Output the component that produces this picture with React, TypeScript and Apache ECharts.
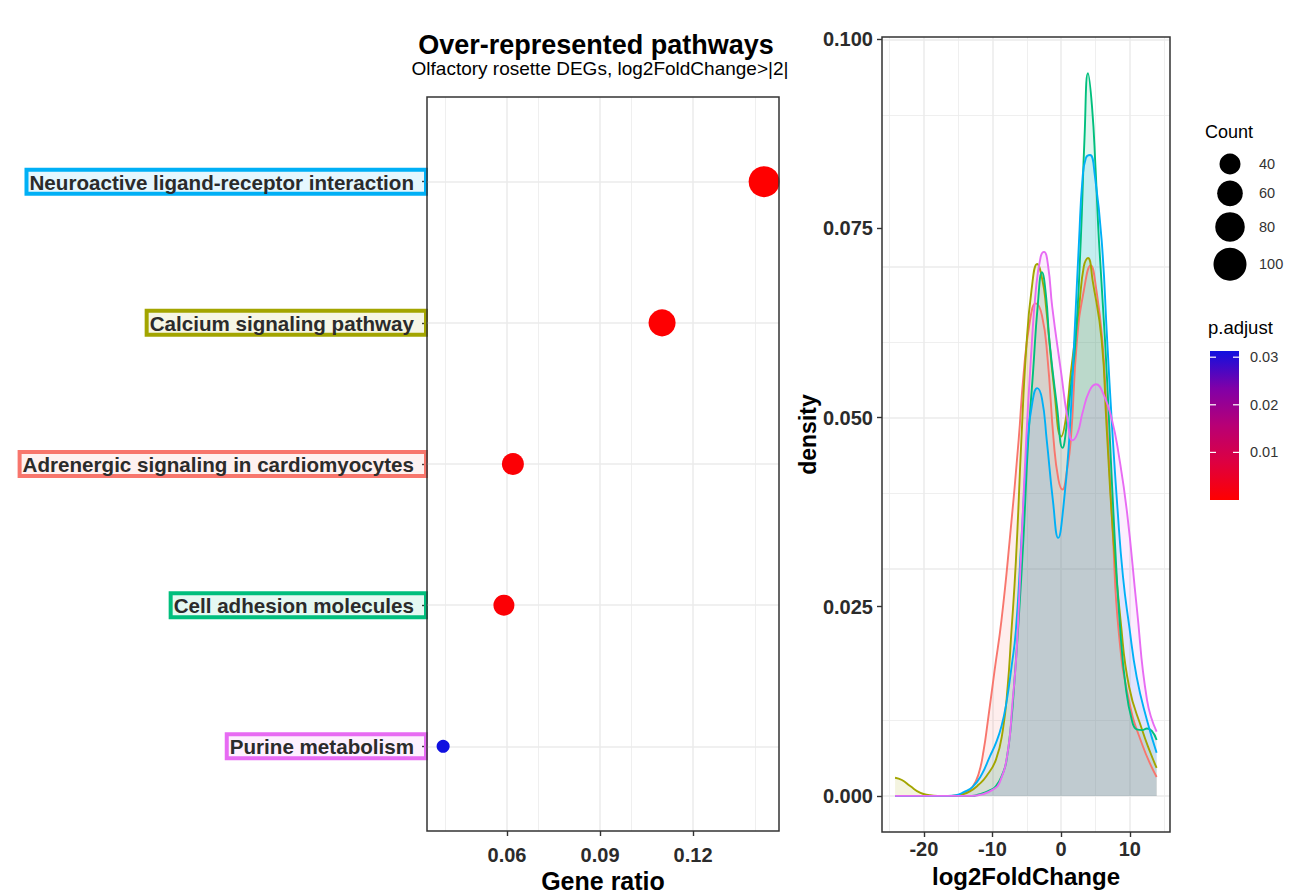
import React, { useEffect, useRef } from 'react';
import * as echarts from 'echarts';

const FONT = '"Liberation Sans", Arial, Helvetica, sans-serif';

// ---------- Dot plot data ----------
const pathways = [
  'Neuroactive ligand-receptor interaction',
  'Calcium signaling pathway',
  'Adrenergic signaling in cardiomyocytes',
  'Cell adhesion molecules',
  'Purine metabolism',
];
const geneRatio = [0.1429, 0.11, 0.0619, 0.059, 0.0394];
const geneCount = [88, 67, 44, 40, 15];
const pAdjust = [0.00001, 0.0002, 0.0006, 0.0006, 0.0313];
const pathwayColors = ['#00B0F6', '#A3A500', '#F8766D', '#00BF7D', '#E76BF3'];

const ratioTicks = [0.06, 0.09, 0.12];
const ratioMinor = [0.045, 0.075, 0.105, 0.135];
const countLegend = [40, 60, 80, 100];
const pTicks = [0.01, 0.02, 0.03];
const pMax = 0.0313;
const pGradient = ['#FF0000', '#DE0040', '#B80075', '#8000A8', '#1010E0'];

// ---------- Density plot data ----------
const foldTicks = [-20, -10, 0, 10];
const foldMinor = [-25, -15, -5, 5, 15];
const densityTicks = [0, 0.025, 0.05, 0.075, 0.1];
const densityMinor = [0.0125, 0.0375, 0.0625, 0.0875];

const densAdrenergic = [
  [-24.2, 0], [-20, 0], [-16, 0], [-15, 0.0001], [-14, 0.0004], [-12.9, 0.0012], [-12, 0.003],
  [-11.3, 0.006], [-10.7, 0.0098], [-9.7, 0.0166], [-8.7, 0.0232], [-7.5, 0.0338], [-6.2, 0.047],
  [-5.5, 0.0555], [-4.6, 0.0625], [-3.7, 0.0651], [-2.8, 0.0635], [-2.0, 0.058], [-1.1, 0.047],
  [-0.4, 0.0418], [0.2, 0.0405], [0.8, 0.0428], [1.4, 0.047], [2.3, 0.0602], [3.3, 0.0668],
  [4.3, 0.0701], [5.1, 0.067], [6.0, 0.0602], [6.7, 0.049], [7.5, 0.035], [8.4, 0.0215],
  [9.9, 0.0125], [11.8, 0.0068], [13.9, 0.0025],
];
const densCalcium = [
  [-24.2, 0.0024], [-23.2, 0.0021], [-22, 0.0013], [-20.5, 0.0004], [-19.2, 0.0001], [-18, 0],
  [-16, 0], [-14.5, 0.0002], [-13.3, 0.0006], [-12, 0.0015], [-10.9, 0.0026], [-9.5, 0.0048],
  [-8.5, 0.0087], [-7.8, 0.0144], [-7.3, 0.021], [-6.6, 0.031], [-5.8, 0.047], [-5.1, 0.059],
  [-4.3, 0.067], [-3.5, 0.0703], [-2.7, 0.068], [-2.2, 0.0646], [-1.0, 0.0536], [0, 0.0475],
  [0.7, 0.05], [1.4, 0.0559], [2.6, 0.0646], [3.3, 0.07], [3.9, 0.0711], [4.6, 0.068],
  [5.9, 0.0602], [6.6, 0.049], [7.6, 0.034], [8.65, 0.0232], [9.9, 0.0144], [11.8, 0.0087],
  [13.0, 0.0057], [13.9, 0.0037],
];
const densCellAdhesion = [
  [-24.2, 0], [-20, 0], [-16, 0], [-13, 0], [-12, 0.0002], [-10.5, 0.0007], [-9.5, 0.0013],
  [-8.5, 0.003], [-8.0, 0.0045], [-7.3, 0.0095], [-6.7, 0.0166], [-6.2, 0.0232], [-5.5, 0.034],
  [-4.8, 0.047], [-4.1, 0.056], [-3.4, 0.065], [-2.8, 0.0692], [-2.2, 0.066], [-1.7, 0.06],
  [-0.6, 0.0514], [0.2, 0.046], [0.8, 0.049], [1.4, 0.054], [2.1, 0.0602], [2.85, 0.0734],
  [3.4, 0.087], [3.9, 0.0955], [4.5, 0.091], [5.0, 0.083], [5.5, 0.0734], [6.4, 0.06],
  [7.0, 0.049], [7.8, 0.034], [8.6, 0.022], [9.4, 0.0144], [10.3, 0.01], [11.0, 0.0088],
  [11.8, 0.0087], [12.5, 0.0089], [13.2, 0.0086], [13.9, 0.0074],
];
const densNeuroactive = [
  [-24.2, 0], [-20, 0], [-16.5, 0], [-15.3, 0.0001], [-14.2, 0.0005], [-12.9, 0.0012],
  [-11.6, 0.0028], [-10.4, 0.0052], [-9.5, 0.007], [-8.7, 0.0092], [-8.0, 0.0122], [-7.3, 0.0166],
  [-6.6, 0.0219], [-5.8, 0.0338], [-4.9, 0.047], [-4.2, 0.052], [-3.5, 0.0539], [-2.8, 0.0525],
  [-2.1, 0.047], [-1.2, 0.039], [-0.43, 0.0341], [0.3, 0.038], [1.16, 0.047], [1.9, 0.0602],
  [2.6, 0.0734], [3.1, 0.0815], [3.6, 0.0843], [4.2, 0.0847], [4.9, 0.082], [5.9, 0.0734],
  [6.7, 0.0602], [7.4, 0.049], [8.2, 0.038], [9.0, 0.029], [9.9, 0.0225], [11.0, 0.0157],
  [12.5, 0.01], [13.9, 0.0057],
];
const densPurine = [
  [-24.2, 0], [-20, 0], [-16, 0], [-13, 0], [-11.5, 0.0002], [-10, 0.0008], [-9.0, 0.0017],
  [-7.8, 0.0057], [-7.1, 0.0123], [-6.5, 0.019], [-5.8, 0.033], [-5.1, 0.047], [-4.4, 0.058],
  [-3.7, 0.0668], [-3.0, 0.0712], [-2.5, 0.0719], [-1.9, 0.07], [-1.3, 0.0646], [0, 0.0559],
  [0.9, 0.05], [1.65, 0.047], [2.4, 0.048], [3.1, 0.0506], [4.1, 0.0535], [5.07, 0.0544],
  [6.2, 0.053], [7.4, 0.0497], [8.4, 0.045], [9.6, 0.0374], [11.0, 0.025], [12.5, 0.0127],
  [13.9, 0.0085],
];

// ggplot draws groups in alphabetical order
const densitySeries = [
  { name: 'Adrenergic signaling in cardiomyocytes', color: '#F8766D', data: densAdrenergic },
  { name: 'Calcium signaling pathway', color: '#A3A500', data: densCalcium },
  { name: 'Cell adhesion molecules', color: '#00BF7D', data: densCellAdhesion },
  { name: 'Neuroactive ligand-receptor interaction', color: '#00B0F6', data: densNeuroactive },
  { name: 'Purine metabolism', color: '#E76BF3', data: densPurine },
];

function rgba(hex: string, a: number) {
  const n = parseInt(hex.slice(1), 16);
  return `rgba(${(n >> 16) & 255},${(n >> 8) & 255},${n & 255},${a})`;
}
const sizeOf = (count: number) => Math.sqrt(9 + 10.8 * count);

export default function App() {
  const ref = useRef<HTMLDivElement>(null);

  useEffect(() => {
    const chart = echarts.init(ref.current!, null, { renderer: 'svg' });
    const n = pathways.length;
    const yPos = pathways.map((_, i) => n - i);

    const rich: Record<string, any> = {};
    pathways.forEach((_, i) => {
      rich['b' + i] = {
        fontSize: 20.6,
        fontWeight: 'bold',
        fontFamily: FONT,
        color: '#2b2b2b',
        borderColor: pathwayColors[i],
        borderWidth: 2,
        backgroundColor: rgba(pathwayColors[i], 0.1),
        padding: [2, 12, 1, 3],
        lineHeight: 21,
      };
    });

    const gridLine = (w: number) => ({ color: '#EBEBEB', width: w, type: 'solid' });
    const markLineBase = {
      silent: true,
      symbol: ['none', 'none'],
      label: { show: false },
      emphasis: { disabled: true },
      z: 1,
      animation: false,
    };

    const txt = (extra: any) => ({
      fontFamily: FONT, align: 'left', verticalAlign: 'middle', textAlign: 'left', textVerticalAlign: 'middle', ...extra,
    });

    // legend graphics
    const legendEls: any[] = [];
    legendEls.push({ type: 'text', x: 1205, y: 132, style: txt({ text: 'Count', fontSize: 18, fill: '#000' }) });
    let cy = 164;
    countLegend.forEach((c, i) => {
      const d = sizeOf(c);
      if (i > 0) cy += (sizeOf(countLegend[i - 1]) + 6) / 2 + (d + 6) / 2;
      legendEls.push({ type: 'circle', shape: { cx: 1230, cy, r: d / 2 }, style: { fill: '#000' } });
      legendEls.push({ type: 'text', x: 1259, y: cy, style: txt({ text: String(c), fontSize: 14.5, fill: '#333' }) });
    });
    const barTop = 351, barH = 149, barX = 1210, barW = 29;
    legendEls.push({ type: 'text', x: 1208, y: 327, style: txt({ text: 'p.adjust', fontSize: 18.5, fill: '#000' }) });
    legendEls.push({
      type: 'rect', shape: { x: barX, y: barTop, width: barW, height: barH },
      style: {
        fill: {
          type: 'linear', x: 0, y: 1, x2: 0, y2: 0,
          colorStops: pGradient.map((c, i) => ({ offset: i / (pGradient.length - 1), color: c })),
        },
      },
    });
    pTicks.forEach((v) => {
      const y = barTop + barH * (1 - v / pMax);
      legendEls.push({ type: 'line', shape: { x1: barX, y1: y, x2: barX + 6, y2: y }, style: { stroke: '#fff', lineWidth: 1.2 } });
      legendEls.push({ type: 'line', shape: { x1: barX + barW - 6, y1: y, x2: barX + barW, y2: y }, style: { stroke: '#fff', lineWidth: 1.2 } });
      legendEls.push({ type: 'text', x: 1250, y, style: txt({ text: v.toFixed(2), fontSize: 14.5, fill: '#333' }) });
    });

    const titleEls = [
      {
        type: 'text', x: 596, y: 45,
        style: txt({ text: 'Over-represented pathways', fontSize: 27, lineHeight: 27, fontWeight: 'bold', fill: '#000', align: 'center', textAlign: 'center' }),
      },
      {
        type: 'text', x: 600, y: 68,
        style: txt({ text: 'Olfactory rosette DEGs, log2FoldChange>|2|', fontSize: 19, lineHeight: 19, fill: '#000', align: 'center', textAlign: 'center' }),
      },
    ];

    const tickStyle = { color: '#333', width: 1.4 };
    const labelBold = { fontSize: 20, fontWeight: 'bold', fontFamily: FONT, color: '#2b2b2b' };
    const nameStyle = (s: number) => ({ fontSize: s, fontWeight: 'bold', fontFamily: FONT, color: '#000' });
    const noLine = { show: false, onZero: false };

    const option: any = {
      animation: false,
      backgroundColor: '#ffffff',
      textStyle: { fontFamily: FONT },
      grid: [
        { left: 427, top: 97, width: 352, height: 734, outerBoundsMode: 'none', containLabel: false, show: true, backgroundColor: 'transparent', borderColor: '#333', borderWidth: 1.5, z: 10 },
        { left: 882, top: 37, width: 288, height: 795, outerBoundsMode: 'none', containLabel: false, show: true, backgroundColor: 'transparent', borderColor: '#333', borderWidth: 1.5, z: 10 },
      ],
      xAxis: [
        {
          type: 'value', gridIndex: 0, min: 0.0342, max: 0.1477,
          axisLine: noLine, splitLine: { show: false },
          axisTick: { show: true, customValues: ratioTicks, length: 5, lineStyle: tickStyle },
          axisLabel: { customValues: ratioTicks, formatter: (v: number) => v.toFixed(2), margin: 14, ...labelBold, lineHeight: 20 },
          name: 'Gene ratio', nameLocation: 'middle', nameGap: 37, nameMoveOverlap: false,
          nameTextStyle: { ...nameStyle(25), lineHeight: 25 },
        },
        {
          type: 'value', gridIndex: 1, min: -26.1, max: 15.85,
          axisLine: noLine, splitLine: { show: false },
          axisTick: { show: true, customValues: foldTicks, length: 5, lineStyle: tickStyle },
          axisLabel: { customValues: foldTicks, formatter: (v: number) => String(v), margin: 7, ...labelBold },
          name: 'log2FoldChange', nameLocation: 'middle', nameGap: 32, nameTextStyle: nameStyle(24),
        },
      ],
      yAxis: [
        {
          type: 'value', gridIndex: 0, min: 0.4, max: 5.6,
          axisLine: noLine, splitLine: { show: false },
          axisTick: { show: true, customValues: yPos, length: 5, lineStyle: tickStyle },
          axisLabel: {
            customValues: yPos, margin: 1, rich,
            formatter: (v: number) => {
              const i = n - Math.round(v);
              return `{b${i}|${pathways[i]}}`;
            },
          },
        },
        {
          type: 'value', gridIndex: 1, min: -0.00477, max: 0.1003,
          axisLine: noLine, splitLine: { show: false },
          axisTick: { show: true, customValues: densityTicks, length: 5, lineStyle: tickStyle },
          axisLabel: { customValues: densityTicks, formatter: (v: number) => v.toFixed(3), margin: 9, ...labelBold },
          name: 'density', nameLocation: 'middle', nameRotate: 90, nameGap: 62, nameTextStyle: nameStyle(23),
        },
      ],
      visualMap: [
        {
          type: 'continuous', show: false, seriesIndex: 0, dimension: 3,
          min: 0, max: pMax, inRange: { color: pGradient },
        },
      ],
      graphic: [...titleEls, ...legendEls],
      series: [
        {
          type: 'scatter', xAxisIndex: 0, yAxisIndex: 0, z: 5,
          data: pathways.map((p, i) => [geneRatio[i], yPos[i], geneCount[i], pAdjust[i], p]),
          symbolSize: (val: any[]) => sizeOf(val[2]),
          itemStyle: { opacity: 1 },
          silent: true,
        },
        {
          type: 'line', xAxisIndex: 0, yAxisIndex: 0, data: [], silent: true,
          markLine: {
            ...markLineBase,
            data: [
              ...ratioMinor.map((v) => ({ xAxis: v, lineStyle: gridLine(0.8) })),
              ...ratioTicks.map((v) => ({ xAxis: v, lineStyle: gridLine(1.5) })),
              ...yPos.map((v) => ({ yAxis: v, lineStyle: gridLine(1.5) })),
            ],
          },
        },
        {
          type: 'line', xAxisIndex: 1, yAxisIndex: 1, data: [], silent: true,
          markLine: {
            ...markLineBase,
            data: [
              ...foldMinor.map((v) => ({ xAxis: v, lineStyle: gridLine(0.8) })),
              ...densityMinor.map((v) => ({ yAxis: v, lineStyle: gridLine(0.8) })),
              ...foldTicks.map((v) => ({ xAxis: v, lineStyle: gridLine(1.5) })),
              ...densityTicks.map((v) => ({ yAxis: v, lineStyle: gridLine(1.5) })),
            ],
          },
        },
        ...densitySeries.map((s) => ({
          type: 'line', name: s.name, xAxisIndex: 1, yAxisIndex: 1, z: 2,
          data: s.data, showSymbol: false, symbol: 'none', smooth: 0.5,
          lineStyle: { color: s.color, width: 1.9 },
          areaStyle: { color: s.color, opacity: 0.12 },
          silent: true,
        })),
      ],
    };

    chart.setOption(option);
    return () => chart.dispose();
  }, []);

  return (
    <div
      ref={ref}
      style={{ position: 'fixed', left: 0, top: 0, width: 1293, height: 894, background: '#fff' }}
    />
  );
}
